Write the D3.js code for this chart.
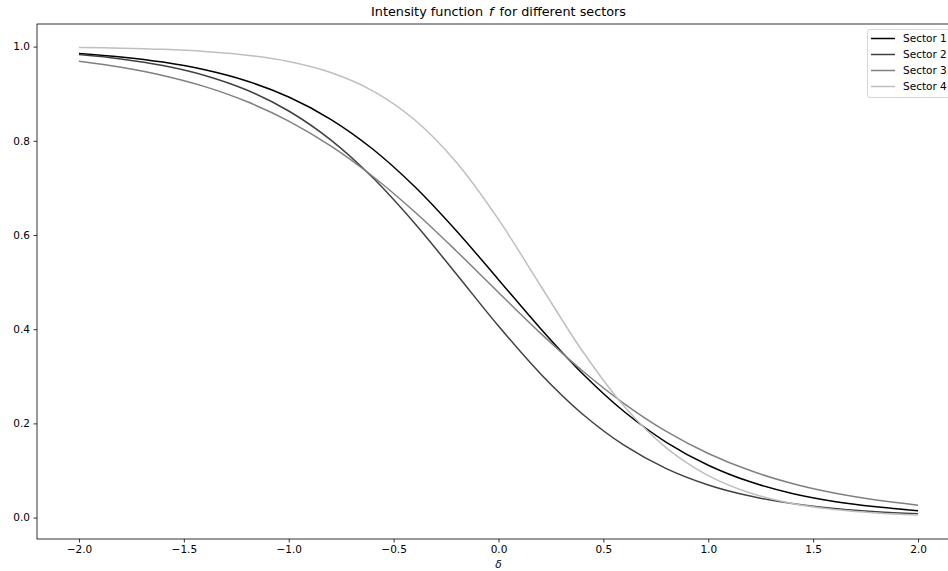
<!DOCTYPE html>
<html>
<head>
<meta charset="utf-8">
<script src="https://cdn.jsdelivr.net/npm/d3@7"></script>
<style>
  html, body { margin: 0; padding: 0; background: #fff; }
  svg { display: block; font-family: "DejaVu Sans", sans-serif; }
</style>
</head>
<body>
<svg id="chart" width="948" height="571"></svg>
<script>
// ---- data ----
const deltas = [-2.0, -1.8, -1.6, -1.4, -1.2, -1.0, -0.8, -0.6, -0.4, -0.2, 0.0,
                 0.2, 0.4, 0.6, 0.8, 1.0, 1.2, 1.4, 1.6, 1.8, 2.0];
const sector1 = [0.9855, 0.9781, 0.9671, 0.9508, 0.9270, 0.8929, 0.8457, 0.7826, 0.7029, 0.6085, 0.5052,
                 0.4016, 0.3060, 0.2246, 0.1599, 0.1112, 0.0759, 0.0512, 0.0343, 0.0228, 0.0145];
const sector2 = [0.9831, 0.9739, 0.9599, 0.9388, 0.9078, 0.8633, 0.8020, 0.7220, 0.6250, 0.5166, 0.4067,
                 0.3055, 0.2200, 0.1532, 0.1040, 0.0693, 0.0456, 0.0297, 0.0193, 0.0125, 0.0080];
const sector3 = [0.9687, 0.9561, 0.9387, 0.9150, 0.8833, 0.8419, 0.7892, 0.7247, 0.6493, 0.5656, 0.4780,
                 0.3917, 0.3117, 0.2416, 0.1830, 0.1361, 0.0998, 0.0723, 0.0520, 0.0371, 0.0264];
const sector4 = [0.9981, 0.9967, 0.9942, 0.9897, 0.9818, 0.9682, 0.9449, 0.9061, 0.8447, 0.7539, 0.6330,
                 0.4928, 0.3537, 0.2356, 0.1480, 0.0891, 0.0522, 0.0301, 0.0172, 0.0098, 0.0055];
const seriesNames = ["Sector 1", "Sector 2", "Sector 3", "Sector 4"];
const seriesColors = ["#000000", "#404040", "#808080", "#bfbfbf"];
const xTicks = [-2.0, -1.5, -1.0, -0.5, 0.0, 0.5, 1.0, 1.5, 2.0];
const yTicks = [0.0, 0.2, 0.4, 0.6, 0.8, 1.0];
const titleText = "Intensity function";
const titleItalic = "f";
const titleRest = "for different sectors";
const xLabel = "δ";

// ---- layout ----
const svg = d3.select("#chart");
const plot = { left: 37, right: 960, top: 24, bottom: 539 };

const x = d3.scaleLinear().domain([-2.2, 2.2]).range([plot.left, plot.right]);
const y = d3.scaleLinear().domain([-0.0455, 1.048]).range([plot.bottom, plot.top]);

svg.append("rect").attr("width", 948).attr("height", 571).attr("fill", "#fff");

const allSeries = [sector1, sector2, sector3, sector4];

const line = d3.line()
  .x(d => x(d[0]))
  .y(d => y(d[1]))
  .curve(d3.curveCatmullRom.alpha(0.5));

const g = svg.append("g");
allSeries.forEach((vals, i) => {
  g.append("path")
    .datum(deltas.map((d, j) => [d, vals[j]]))
    .attr("fill", "none")
    .attr("stroke", seriesColors[i])
    .attr("stroke-width", 1.5)
    .attr("stroke-linejoin", "round")
    .attr("d", line);
});

// axes
const fmt = d => d3.format(".1f")(d).replace("-", "\u2212");
const xAxis = d3.axisBottom(x).tickValues(xTicks).tickFormat(fmt).tickSize(3.5).tickPadding(3.5).tickSizeOuter(0);
const yAxis = d3.axisLeft(y).tickValues(yTicks).tickFormat(fmt).tickSize(3.5).tickPadding(3.5).tickSizeOuter(0);

const gx = svg.append("g").attr("transform", `translate(0,${plot.bottom})`).call(xAxis);
const gy = svg.append("g").attr("transform", `translate(${plot.left},0)`).call(yAxis);
[gx, gy].forEach(ax => {
  ax.select(".domain").remove();
  ax.selectAll(".tick line").attr("stroke", "#000").attr("stroke-width", 0.8);
  ax.selectAll(".tick text").attr("fill", "#000").attr("font-size", 10.5)
    .attr("font-family", "DejaVu Sans, sans-serif");
});

// spines
svg.append("rect")
  .attr("x", plot.left).attr("y", plot.top)
  .attr("width", plot.right - plot.left).attr("height", plot.bottom - plot.top)
  .attr("fill", "none").attr("stroke", "#000").attr("stroke-width", 0.8);

// title (centered over the axes)
const title = svg.append("text")
  .attr("x", (plot.left + plot.right) / 2).attr("y", 16)
  .attr("text-anchor", "middle")
  .attr("font-size", 12.8).attr("fill", "#000");
title.append("tspan").text(titleText);
title.append("tspan").attr("dx", 6).attr("font-style", "italic").text(titleItalic);
title.append("tspan").attr("dx", 6).text(titleRest);

// x label
svg.append("text")
  .attr("x", x(0)).attr("y", 568)
  .attr("text-anchor", "middle")
  .attr("font-size", 10.5).attr("font-style", "italic").attr("fill", "#000")
  .text(xLabel);

// legend
const lg = svg.append("g").attr("transform", "translate(867,29)");
lg.append("rect")
  .attr("x", 0.5).attr("y", 0.5).attr("width", 100).attr("height", 68)
  .attr("rx", 2.5).attr("fill", "#fff").attr("fill-opacity", 0.8)
  .attr("stroke", "#cccccc").attr("stroke-width", 0.8);
seriesNames.forEach((name, i) => {
  const yy = 9.5 + i * 16;
  lg.append("line")
    .attr("x1", 4).attr("x2", 28).attr("y1", yy).attr("y2", yy)
    .attr("stroke", seriesColors[i]).attr("stroke-width", 1.5);
  lg.append("text")
    .attr("x", 36).attr("y", yy + 3.8)
    .attr("font-size", 10.5).attr("fill", "#000")
    .text(name);
});
</script>
</body>
</html>
